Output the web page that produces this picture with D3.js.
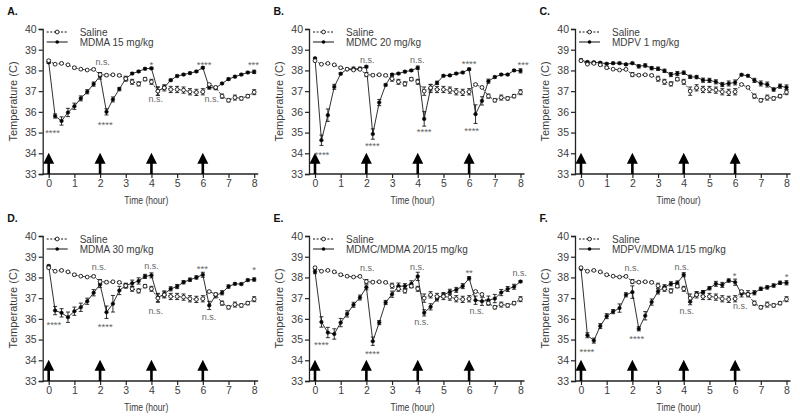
<!DOCTYPE html>
<html><head><meta charset="utf-8">
<script src="https://cdn.jsdelivr.net/npm/d3@7"></script>
<style>
html,body{margin:0;padding:0;background:#fff;}
svg{display:block;}
text{font-family:"Liberation Sans",Arial,sans-serif;}
</style></head>
<body>
<svg id="chart" width="800" height="419"></svg>
<script>
// ---- data ----
const hours = [0,0.25,0.5,0.75,1,1.25,1.5,1.75,2,2.25,2.5,2.75,3,3.25,3.5,3.75,4,4.25,4.5,4.75,5,5.25,5.5,5.75,6,6.25,6.5,6.75,7,7.25,7.5,7.75,8];
const xTicks = [0,1,2,3,4,5,6,7,8];
const yTicks = [33,34,35,36,37,38,39,40];
const injectionTimes = [0,2,4,6];

const salineMean = [38.47,38.3,38.34,38.27,38.13,38.06,38.02,38.05,37.8,37.77,37.79,37.76,37.6,37.45,37.35,37.58,37.45,37.0,37.16,37.08,37.08,37.05,36.97,36.94,36.97,37.32,37.18,36.76,36.56,36.69,36.65,36.76,36.95];
const salineSem  = [0.05,0.03,0.03,0.03,0.05,0.03,0.03,0.05,0.1,0.05,0.03,0.05,0.12,0.12,0.1,0.08,0.12,0.2,0.15,0.15,0.15,0.15,0.15,0.15,0.15,0.05,0.05,0.1,0.08,0.12,0.08,0.08,0.12];

const mdma15Mean = [38.39,35.8,35.56,35.97,36.27,36.65,36.97,37.34,37.73,36.0,36.6,37.1,37.6,37.85,37.95,38.08,38.1,37.0,37.18,37.53,37.73,37.8,37.87,37.95,38.13,37.18,37.15,37.37,37.58,37.7,37.8,37.9,37.93];
const mdma15Sem  = [0.05,0.1,0.2,0.2,0.15,0.12,0.1,0.1,0.15,0.15,0.12,0.08,0.08,0.05,0.05,0.05,0.05,0.2,0.08,0.05,0.05,0.05,0.05,0.05,0.05,0.08,0.08,0.05,0.05,0.05,0.05,0.05,0.08];

const mdmc20Mean = [38.58,34.63,35.84,37.21,37.84,38.06,38.08,38.08,38.18,34.93,36.45,37.3,37.8,37.85,37.94,38.0,38.13,35.66,37.13,37.4,37.74,37.76,37.85,37.9,38.06,35.89,36.53,37.48,37.68,37.8,37.8,38.0,37.98];
const mdmc20Sem  = [0.05,0.25,0.3,0.12,0.05,0.05,0.08,0.08,0.05,0.25,0.15,0.05,0.05,0.05,0.05,0.05,0.08,0.35,0.2,0.08,0.05,0.05,0.05,0.05,0.05,0.45,0.2,0.1,0.05,0.05,0.05,0.05,0.1];

const mdpv1Mean = [38.5,38.4,38.39,38.37,38.32,38.35,38.35,38.29,38.35,38.2,38.24,38.11,38.08,37.98,37.8,37.85,37.89,37.69,37.68,37.53,37.52,37.45,37.32,37.37,37.42,37.79,37.74,37.52,37.37,37.32,37.08,37.24,37.18];
const mdpv1Sem  = [0.05,0.05,0.05,0.05,0.05,0.05,0.05,0.05,0.05,0.08,0.08,0.08,0.08,0.08,0.1,0.1,0.08,0.08,0.08,0.1,0.1,0.1,0.1,0.12,0.12,0.05,0.05,0.1,0.12,0.12,0.08,0.1,0.12];

const mdma30Mean = [38.55,36.4,36.29,36.08,36.37,36.56,36.85,37.26,37.66,36.32,36.73,37.37,37.61,37.72,37.83,38.05,38.1,37.03,37.2,37.45,37.56,37.77,37.89,38.0,38.13,36.65,37.13,37.26,37.56,37.69,37.68,37.87,37.9];
const mdma30Sem  = [0.05,0.2,0.2,0.25,0.2,0.2,0.15,0.15,0.15,0.3,0.4,0.2,0.1,0.15,0.15,0.1,0.12,0.2,0.15,0.1,0.1,0.08,0.08,0.08,0.12,0.2,0.12,0.1,0.08,0.05,0.05,0.05,0.08];

const mdmcMdmaMean = [38.28,35.85,35.34,35.27,35.82,36.24,36.68,37.03,37.52,34.92,35.82,36.79,37.19,37.58,37.58,37.69,38.05,36.29,36.58,36.98,37.15,37.31,37.4,37.58,37.96,36.9,36.85,36.9,36.98,37.27,37.44,37.55,37.8];
const mdmcMdmaSem  = [0.1,0.25,0.25,0.25,0.2,0.15,0.12,0.12,0.12,0.2,0.1,0.1,0.15,0.15,0.12,0.15,0.2,0.15,0.15,0.12,0.12,0.12,0.12,0.12,0.08,0.2,0.2,0.2,0.2,0.15,0.12,0.12,0.05];

const mdpvMdmaMean = [38.42,35.21,34.95,35.65,36.13,36.35,36.52,37.16,37.29,35.52,36.15,36.81,37.32,37.53,37.69,37.73,38.13,36.83,37.21,37.29,37.48,37.69,37.64,37.85,37.77,37.21,37.21,37.26,37.45,37.52,37.61,37.74,37.74];
const mdpvMdmaSem  = [0.05,0.12,0.12,0.12,0.12,0.1,0.2,0.1,0.3,0.1,0.2,0.15,0.12,0.12,0.1,0.1,0.1,0.15,0.1,0.08,0.08,0.12,0.12,0.08,0.15,0.15,0.15,0.1,0.08,0.08,0.08,0.08,0.1];

const panelLabels = ["A.","B.","C.","D.","E.","F."];
const salineName = "Saline";
const drugNames = ["MDMA 15 mg/kg","MDMC 20 mg/kg","MDPV 1 mg/kg","MDMA 30 mg/kg","MDMC/MDMA 20/15 mg/kg","MDPV/MDMA 1/15 mg/kg"];
const drugMeans = [mdma15Mean, mdmc20Mean, mdpv1Mean, mdma30Mean, mdmcMdmaMean, mdpvMdmaMean];
const drugSems  = [mdma15Sem, mdmc20Sem, mdpv1Sem, mdma30Sem, mdmcMdmaSem, mdpvMdmaSem];

// significance labels: [text, hour, temperature]
const annotA = [["****",0.15,35.12],["n.s.",2.1,38.4],["****",2.2,35.5],["*",4.0,38.4],["n.s.",4.17,36.6],["****",6.05,38.4],["n.s.",6.35,36.6],["***",7.97,38.4]];
const annotB = [["****",0.27,34.05],["n.s.",2.03,38.5],["****",2.23,34.45],["n.s.",3.98,38.5],["****",4.25,35.15],["****",6.0,38.45],["****",6.1,35.2],["***",8.1,38.4]];
const annotC = [];
const annotD = [["****",0.2,35.83],["n.s.",1.96,38.5],["****",2.2,35.73],["n.s.",4.0,38.55],["n.s.",4.17,36.37],["***",5.98,38.55],["n.s.",6.24,36.07],["*",8.0,38.5]];
const annotE = [["****",0.25,34.86],["n.s.",2.03,38.45],["****",2.23,34.43],["n.s.",3.98,38.5],["n.s.",4.15,35.83],["**",6.0,38.35],["n.s.",6.3,36.37],["n.s.",7.97,38.2]];
const annotF = [["****",0.23,34.5],["n.s.",1.98,38.45],["****",2.17,35.15],["n.s.",3.92,38.5],["n.s.",4.12,36.37],["*",5.98,38.2],["n.s.",6.2,36.6],["*",8.0,38.15]];
const annotations = [annotA, annotB, annotC, annotD, annotE, annotF];

// ---- layout ----
const colX0 = [48.7, 315, 581];
const plotW = 205.5;
const rowTop = [29, 236];
const rowBottom = [174, 381];
const textGray = "#3c3c3c";

const svg = d3.select("#chart");
svg.append("rect").attr("width",800).attr("height",419).attr("fill","#fff");

drugNames.forEach((name, i) => {
  const col = i % 3, row = Math.floor(i / 3);
  const x0 = colX0[col];
  const x = d3.scaleLinear().domain([0, 8]).range([x0, x0 + plotW]);
  const y = d3.scaleLinear().domain([33, 40]).range([rowBottom[row], rowTop[row]]);
  const axX = x0 - 6;
  const g = svg.append("g");

  // panel label
  g.append("text").attr("x", x0 - 41.5).attr("y", rowTop[row] - 14)
    .attr("font-size", 10.5).attr("font-weight", "bold").attr("fill", "#111").text(panelLabels[i]);

  // y axis
  const yAxis = d3.axisLeft(y).tickValues(yTicks).tickSize(4).tickPadding(2).tickFormat(d3.format("d"));
  const yg = g.append("g").attr("transform", `translate(${axX},0)`).call(yAxis);
  yg.select(".domain").attr("stroke", "#222").attr("stroke-width", 1.3);
  yg.selectAll(".tick line").attr("stroke", "#222").attr("stroke-width", 1.2);
  yg.selectAll(".tick text").attr("font-size", 10.5).attr("fill", textGray).attr("font-family", "Liberation Sans, Arial, sans-serif");

  // x axis
  const xAxis = d3.axisBottom(x).tickValues(xTicks).tickSize(4).tickPadding(2).tickFormat(d3.format("d"));
  const xg = g.append("g").attr("transform", `translate(0,${rowBottom[row]})`).call(xAxis);
  xg.select(".domain").attr("d", `M${axX},0H${x0 + plotW + 4}`).attr("stroke", "#222").attr("stroke-width", 1.3);
  xg.selectAll(".tick line").attr("stroke", "#222").attr("stroke-width", 1.2);
  xg.selectAll(".tick text").attr("font-size", 10.5).attr("fill", textGray).attr("font-family", "Liberation Sans, Arial, sans-serif");

  // axis titles
  g.append("text").attr("x", x(3.8)).attr("y", rowBottom[row] + 30)
    .attr("text-anchor", "middle").attr("font-size", 11).attr("fill", textGray)
    .attr("textLength", 44).attr("lengthAdjust", "spacingAndGlyphs")
    .text("Time (hour)");
  g.append("text").attr("transform", `translate(${x0 - 32},${(rowTop[row] + rowBottom[row]) / 2}) rotate(-90)`)
    .attr("text-anchor", "middle").attr("font-size", 11).attr("fill", textGray)
    .text("Temperature (C)");

  // injection arrows
  injectionTimes.forEach(t => {
    const cx = x(t);
    g.append("path")
      .attr("d", `M${cx},${y(34.02)}L${cx + 5.5},${y(33.5)}L${cx + 1.3},${y(33.5)}L${cx + 1.3},${y(33)}L${cx - 1.3},${y(33)}L${cx - 1.3},${y(33.5)}L${cx - 5.5},${y(33.5)}Z`)
      .attr("fill", "#000");
  });

  const line = d3.line().x((d, k) => x(hours[k])).y(d => y(d));

  function drawSeries(means, sems, filled) {
    g.append("path").datum(means).attr("d", line).attr("fill", "none")
      .attr("stroke", "#1a1a1a").attr("stroke-width", 0.9)
      .attr("stroke-dasharray", filled ? null : "2,1.6");
    const eb = g.append("g");
    means.forEach((m, k) => {
      const cx = x(hours[k]);
      const y1 = y(m + sems[k]), y2 = y(m - sems[k]);
      eb.append("path")
        .attr("d", `M${cx},${y1}V${y2}M${cx - 2},${y1}H${cx + 2}M${cx - 2},${y2}H${cx + 2}`)
        .attr("stroke", "#1a1a1a").attr("stroke-width", 0.9).attr("fill", "none");
    });
    g.append("g").selectAll("circle").data(means).join("circle")
      .attr("cx", (d, k) => x(hours[k])).attr("cy", d => y(d)).attr("r", filled ? 1.8 : 1.9)
      .attr("fill", filled ? "#000" : "#fff").attr("stroke", "#1a1a1a").attr("stroke-width", filled ? 0.6 : 0.9);
  }
  drawSeries(drugMeans[i], drugSems[i], true);
  drawSeries(salineMean, salineSem, false);

  // legend
  const lx = axX + 4, ly1 = rowTop[row] + 3, ly2 = rowTop[row] + 13;
  g.append("line").attr("x1", lx).attr("x2", lx + 21).attr("y1", ly1).attr("y2", ly1)
    .attr("stroke", "#111").attr("stroke-dasharray", "2,1.6");
  g.append("circle").attr("cx", lx + 10.5).attr("cy", ly1).attr("r", 1.9).attr("fill", "#fff").attr("stroke", "#111").attr("stroke-width", 0.9);
  g.append("text").attr("x", lx + 33).attr("y", ly1 + 3.6).attr("font-size", 10).attr("fill", textGray).text(salineName);
  g.append("line").attr("x1", lx).attr("x2", lx + 21).attr("y1", ly2).attr("y2", ly2).attr("stroke", "#111");
  g.append("circle").attr("cx", lx + 10.5).attr("cy", ly2).attr("r", 1.8).attr("fill", "#000");
  g.append("text").attr("x", lx + 33).attr("y", ly2 + 3.6).attr("font-size", 10).attr("fill", textGray).text(name);

  // significance labels
  annotations[i].forEach(([txt, t, v]) => {
    const star = txt.indexOf("*") === 0;
    g.append("text").attr("x", x(t)).attr("y", y(v) + (star ? 5.5 : 2.6))
      .attr("text-anchor", "middle").attr("font-size", star ? 9.5 : 9)
      .attr("fill", "#666")
      .text(txt);
  });
});
</script>
</body></html>
